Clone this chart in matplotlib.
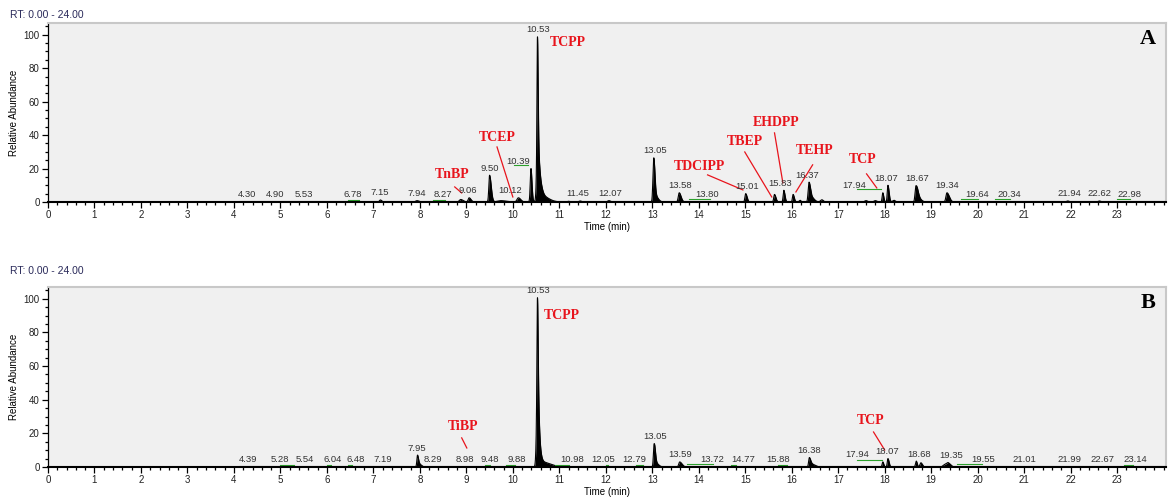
import numpy as np
import matplotlib.pyplot as plt
from matplotlib.ticker import MultipleLocator

# PEAK TABLES (retention time, height %, left width, right width)
peaks_a_rt = [7.15, 7.94, 8.45, 8.88, 9.06, 9.50, 9.75, 10.12, 10.39,
              10.53, 10.53, 10.54, 10.60, 11.20, 11.45, 12.07,
              13.03, 13.06, 13.58, 15.01, 15.63, 15.83, 16.03, 16.18,
              16.37, 16.42, 16.65, 17.60, 17.80, 17.96, 18.07, 18.20,
              18.67, 18.72, 19.34, 21.94, 22.62]
peaks_a_h = [1.2, 0.8, 0.4, 1.5, 2.5, 16, 0.8, 2.5, 20,
             62, 22, 15, 4, 0.4, 0.6, 0.8,
             25, 4, 5.5, 5, 4.5, 7, 4.5, 1.0,
             11, 3, 1.3, 0.8, 0.8, 5.5, 10, 1.0,
             9, 2.5, 5.5, 0.6, 0.6]
peaks_a_wl = [0.02, 0.03, 0.10, 0.03, 0.02, 0.016, 0.08, 0.03, 0.015,
              0.010, 0.018, 0.025, 0.04, 0.03, 0.03, 0.03,
              0.016, 0.02, 0.02, 0.016, 0.016, 0.014, 0.014, 0.02,
              0.017, 0.03, 0.03, 0.03, 0.03, 0.014, 0.014, 0.03,
              0.017, 0.03, 0.022, 0.03, 0.03]
peaks_a_wr = [0.03, 0.04, 0.10, 0.05, 0.04, 0.035, 0.10, 0.05, 0.022,
              0.014, 0.03, 0.06, 0.15, 0.03, 0.03, 0.03,
              0.025, 0.06, 0.04, 0.03, 0.03, 0.025, 0.025, 0.02,
              0.03, 0.06, 0.03, 0.03, 0.03, 0.02, 0.025, 0.03,
              0.04, 0.06, 0.05, 0.03, 0.03]

peaks_b_rt = [7.95, 8.00, 10.53, 10.53, 10.54, 10.62, 13.04, 13.07, 13.59,
              16.38, 16.45, 17.96, 18.07, 18.68, 18.78, 19.30, 19.37]
peaks_b_h = [7, 1.5, 52, 36, 13, 3, 13, 2.5, 3,
             5.5, 1.5, 3, 5, 3.5, 2.5, 1.5, 2]
peaks_b_wl = [0.014, 0.02, 0.010, 0.02, 0.025, 0.05, 0.015, 0.02, 0.02,
              0.016, 0.03, 0.014, 0.014, 0.016, 0.02, 0.04, 0.03]
peaks_b_wr = [0.022, 0.04, 0.014, 0.03, 0.05, 0.18, 0.025, 0.06, 0.05,
              0.03, 0.06, 0.02, 0.025, 0.02, 0.03, 0.05, 0.05]

# RT labels as printed by the software
labels_a = [4.30, 4.90, 5.53, 6.78, 7.15, 7.94, 8.27, 9.06, 9.50, 10.12, 10.39,
            10.53, 11.45, 12.07, 13.05, 13.58, 13.80, 15.01, 15.83, 16.37,
            17.94, 18.07, 18.67, 19.34, 19.64, 20.34, 21.94, 22.62, 22.98]
labels_b = [4.39, 5.28, 5.54, 6.04, 6.48, 7.19, 7.95, 8.29, 8.98, 9.48, 9.88,
            10.53, 10.98, 12.05, 12.79, 13.05, 13.59, 13.72, 14.77, 15.88,
            16.38, 17.94, 18.07, 18.68, 19.35, 19.55, 21.01, 21.99, 22.67, 23.14]

# where the software placed each RT label (x in minutes, layout only)
labx_a = [4.28, 4.88, 5.51, 6.56, 7.14, 7.94, 8.49, 9.03, 9.51, 9.95, 10.12,
          10.54, 11.40, 12.09, 13.05, 13.59, 14.19, 15.03, 15.74, 16.34,
          17.35, 18.04, 18.69, 19.35, 20.00, 20.69, 21.98, 22.62, 23.27]
labx_b = [4.30, 4.99, 5.53, 6.13, 6.62, 7.20, 7.94, 8.28, 8.97, 9.51, 10.09,
          10.54, 11.27, 11.94, 12.62, 13.05, 13.59, 14.28, 14.95, 15.70,
          16.37, 17.40, 18.06, 18.75, 19.44, 20.11, 21.01, 21.98, 22.69, 23.40]

# green baseline segments (x0, x1, y)
green_a = [(6.45, 6.70, 1.0), (8.28, 8.55, 1.2), (10.02, 10.32, 22.0),
           (13.80, 14.25, 2.0), (17.40, 17.93, 8.0), (19.65, 20.00, 1.5),
           (20.37, 20.70, 1.5), (23.00, 23.27, 1.5)]
green_b = [(5.00, 5.30, 1.0), (6.00, 6.08, 1.0), (6.45, 6.55, 1.0),
           (9.40, 9.50, 1.0), (9.85, 10.05, 1.0), (10.90, 11.20, 1.0),
           (12.00, 12.05, 1.0), (12.65, 12.80, 1.0), (13.75, 14.30, 1.5),
           (14.70, 14.80, 1.0), (15.70, 15.90, 1.0), (17.40, 17.95, 4.0),
           (19.55, 20.10, 1.5), (23.15, 23.35, 1.0)]

# compound names: (name, text x, text y, line from, line to)
cmp_a = [('TnBP', 8.69, 16.2, (8.75, 9.0), (8.90, 5.4)),
         ('TCEP', 9.66, 38.3, (9.66, 32.9), (10.00, 3.0)),
         ('TCPP', 11.18, 95.2, None, None),
         ('TDCIPP', 14.02, 21.0, (14.19, 16.2), (14.95, 7.2)),
         ('TBEP', 14.99, 35.9, (14.99, 29.9), (15.57, 3.0)),
         ('EHDPP', 15.66, 47.3, (15.63, 41.3), (15.81, 11.4)),
         ('TEHP', 16.49, 30.5, (16.45, 22.2), (16.09, 6.0)),
         ('TCP', 17.53, 25.1, (17.61, 16.8), (17.83, 8.4))]
cmp_b = [('TiBP', 8.92, 23.8, (8.90, 17.3), (9.01, 11.3)),
         ('TCPP', 11.05, 89.9, None, None),
         ('TCP', 17.70, 27.4, (17.76, 20.8), (18.00, 10.1))]

t = np.arange(4.1, 24.0, 0.002)


def trace(rts, hs, wl, wr):
    y = np.zeros_like(t)
    for rt, h, a, b in zip(rts, hs, wl, wr):
        s = np.where(t < rt, a, b)
        y += h * np.exp(-0.5 * ((t - rt) / s) ** 2)
    return y


def draw_panel(ax, y, labels, labx, greens, cmps, letter):
    ax.set_facecolor('#f0f0f0')
    ax.fill_between(t, 0, y, color='black', lw=0)
    ax.plot(t, y, color='black', lw=0.8)
    ax.plot([4.1, 24.05], [0, 0], color='black', lw=2.2, solid_capstyle='butt', zorder=4)
    for rt, lx in zip(labels, labx):
        m = (t > rt - 0.03) & (t < rt + 0.03)
        top = y[m].max() if m.any() else 0
        ax.text(lx, top + 1.5, f'{rt:.2f}', fontsize=6.8, color='#333333',
                ha='center', va='bottom', family='Liberation Sans')
    for x0, x1, yy in greens:
        ax.plot([x0, x1], [yy, yy], color='#2ca02c', lw=0.8)
    for name, tx, ty, p0, p1 in cmps:
        ax.text(tx, ty, name, fontsize=10, color='#e8141c', fontweight='bold',
                family='Liberation Serif', ha='center', va='center')
        if p0 is not None:
            ax.plot([p0[0], p1[0]], [p0[1], p1[1]], color='#e8141c', lw=0.9)
    ax.text(0.984, 0.91, letter, transform=ax.transAxes, fontsize=16,
            fontweight='bold', family='Liberation Serif', ha='center', va='center')
    ax.set_xlim(0, 24.05)
    ax.set_ylim(0, 107)
    ax.xaxis.set_major_locator(MultipleLocator(1))
    ax.xaxis.set_minor_locator(MultipleLocator(0.2))
    ax.yaxis.set_major_locator(MultipleLocator(20))
    ax.yaxis.set_minor_locator(MultipleLocator(5))
    ax.tick_params(axis='both', which='major', length=4, width=0.9, labelsize=7,
                   pad=2, labelcolor='#222222')
    ax.tick_params(axis='both', which='minor', length=2.5, width=0.9)
    ax.set_xticks(range(0, 24))
    for lab in ax.get_xticklabels() + ax.get_yticklabels():
        lab.set_family('Liberation Sans')
    ax.spines['top'].set_color('#c8c8c8')
    ax.spines['right'].set_color('#c8c8c8')
    ax.spines['top'].set_linewidth(1.5)
    ax.spines['right'].set_linewidth(1.5)
    ax.spines['left'].set_linewidth(0.9)
    ax.spines['bottom'].set_linewidth(1.5)
    ax.set_ylabel('Relative Abundance', fontsize=7, family='Liberation Sans', labelpad=3)
    ax.set_xlabel('Time (min)', fontsize=7, family='Liberation Sans', labelpad=1.5)


fig = plt.figure(figsize=(11.68, 4.97), dpi=100)
ax1 = fig.add_axes([0.0411, 0.5936, 0.9571, 0.3601])
ax2 = fig.add_axes([0.0411, 0.0604, 0.9571, 0.3621])

draw_panel(ax1, trace(peaks_a_rt, peaks_a_h, peaks_a_wl, peaks_a_wr),
           labels_a, labx_a, green_a, cmp_a, 'A')
draw_panel(ax2, trace(peaks_b_rt, peaks_b_h, peaks_b_wl, peaks_b_wr),
           labels_b, labx_b, green_b, cmp_b, 'B')

fig.text(10 / 1168, 1 - 15 / 497, 'RT: 0.00 - 24.00', fontsize=7.5, color='#2a2a5a',
         family='Liberation Sans', va='center')
fig.text(10 / 1168, 1 - 271 / 497, 'RT: 0.00 - 24.00', fontsize=7.5, color='#2a2a5a',
         family='Liberation Sans', va='center')

fig.savefig('out.png', dpi=100)
